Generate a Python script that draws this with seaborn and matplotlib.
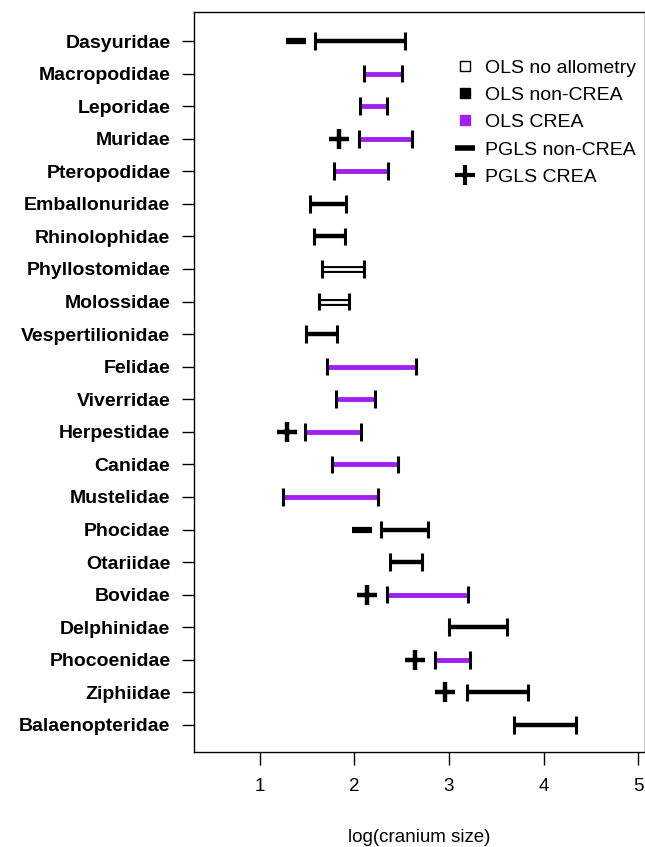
import matplotlib.pyplot as plt
import matplotlib.lines as mlines
import numpy as np
import pandas as pd
import seaborn as sns

# families, top to bottom
families = ['Dasyuridae', 'Macropodidae', 'Leporidae', 'Muridae', 'Pteropodidae',
            'Emballonuridae', 'Rhinolophidae', 'Phyllostomidae', 'Molossidae',
            'Vespertilionidae', 'Felidae', 'Viverridae', 'Herpestidae', 'Canidae',
            'Mustelidae', 'Phocidae', 'Otariidae', 'Bovidae', 'Delphinidae',
            'Phocoenidae', 'Ziphiidae', 'Balaenopteridae']
# OLS range (low, high) and which model it comes from
low = [1.58, 2.10, 2.06, 2.05, 1.78, 1.53, 1.57, 1.66, 1.62, 1.49, 1.71,
       1.80, 1.48, 1.76, 1.24, 2.28, 2.38, 2.34, 3.00, 2.85, 3.19, 3.69]
high = [2.53, 2.50, 2.34, 2.61, 2.35, 1.91, 1.90, 2.10, 1.94, 1.81, 2.65,
        2.22, 2.07, 2.46, 2.25, 2.78, 2.71, 3.20, 3.61, 3.22, 3.84, 4.34]
model = ['non', 'crea', 'crea', 'crea', 'crea', 'non', 'non', 'noallo', 'noallo', 'non', 'crea',
         'crea', 'crea', 'crea', 'crea', 'non', 'non', 'crea', 'non', 'crea', 'non', 'non']
# PGLS point estimates
pgls_non_fam = ['Dasyuridae', 'Phocidae']
pgls_non_val = [1.38, 2.08]
pgls_crea_fam = ['Muridae', 'Herpestidae', 'Bovidae', 'Phocoenidae', 'Ziphiidae']
pgls_crea_val = [1.84, 1.29, 2.13, 2.64, 2.96]

purple = '#A020F0'

sns.set_style('ticks')
plt.rcParams['font.family'] = ['Liberation Sans', 'DejaVu Sans']
plt.rcParams['text.color'] = 'black'
plt.rcParams['axes.labelcolor'] = 'black'
plt.rcParams['xtick.color'] = 'black'
plt.rcParams['ytick.color'] = 'black'

df = pd.DataFrame({'family': families, 'low': low, 'high': high, 'model': model})
df['y'] = np.arange(len(df))
pos = dict(zip(families, df['y']))

fig = plt.figure(figsize=(6.45, 8.47), dpi=100)
ax = fig.add_axes([0.3008, 0.1122, 0.6992, 0.8736])

for _, r in df.iterrows():
    if r['model'] == 'noallo':
        ax.hlines(r['y'], r['low'], r['high'], color='black', lw=5, zorder=2)
        ax.hlines(r['y'], r['low'], r['high'], color='white', lw=2, zorder=3)
    elif r['model'] == 'crea':
        ax.hlines(r['y'], r['low'], r['high'], color=purple, lw=3.5, zorder=2)
    else:
        ax.hlines(r['y'], r['low'], r['high'], color='black', lw=3.2, zorder=2)
    ax.vlines([r['low'], r['high']], r['y'] - 0.27, r['y'] + 0.27, color='black', lw=2.2, zorder=4)

sns.scatterplot(x=pgls_non_val, y=[pos[f] for f in pgls_non_fam], marker='_', s=220,
                color='black', linewidth=4.5, ax=ax, zorder=5)
sns.scatterplot(x=pgls_crea_val, y=[pos[f] for f in pgls_crea_fam], marker='+', s=220,
                color='black', linewidth=3.2, ax=ax, zorder=5)

ax.set_xlim(0.302, 5.074)
ax.set_ylim(21.83, -0.89)
ax.set_yticks(df['y'])
ax.set_yticklabels(families, fontsize=14, fontweight='bold')
ax.set_xticks([1, 2, 3, 4, 5])
ax.set_xticklabels(['1', '2', '3', '4', '5'], fontsize=13.5)
ax.tick_params(axis='x', length=9, width=1, pad=10)
ax.tick_params(axis='y', length=9, width=1, pad=8)
ax.set_xlabel('log(cranium size)', fontsize=13.5, labelpad=24)
ax.set_ylabel('')
for s in ax.spines.values():
    s.set_linewidth(1)
    s.set_color('black')

handles = [
    mlines.Line2D([], [], ls='none', marker='s', ms=7, mfc='white', mec='black', mew=1),
    mlines.Line2D([], [], ls='none', marker='s', ms=7, mfc='black', mec='black'),
    mlines.Line2D([], [], ls='none', marker='s', ms=7, mfc=purple, mec=purple),
    mlines.Line2D([], [], ls='none', marker='_', ms=15, mew=4, color='black'),
    mlines.Line2D([], [], ls='none', marker='+', ms=15, mew=3, color='black'),
]
labels = ['OLS no allometry', 'OLS non-CREA', 'OLS CREA', 'PGLS non-CREA', 'PGLS CREA']
ax.legend(handles, labels, loc='upper right', bbox_to_anchor=(1.01, 0.955), frameon=False,
          fontsize=14, handlelength=0.8, handletextpad=0.6, labelspacing=0.5, borderpad=0.2)

fig.savefig('out.png', dpi=100)
